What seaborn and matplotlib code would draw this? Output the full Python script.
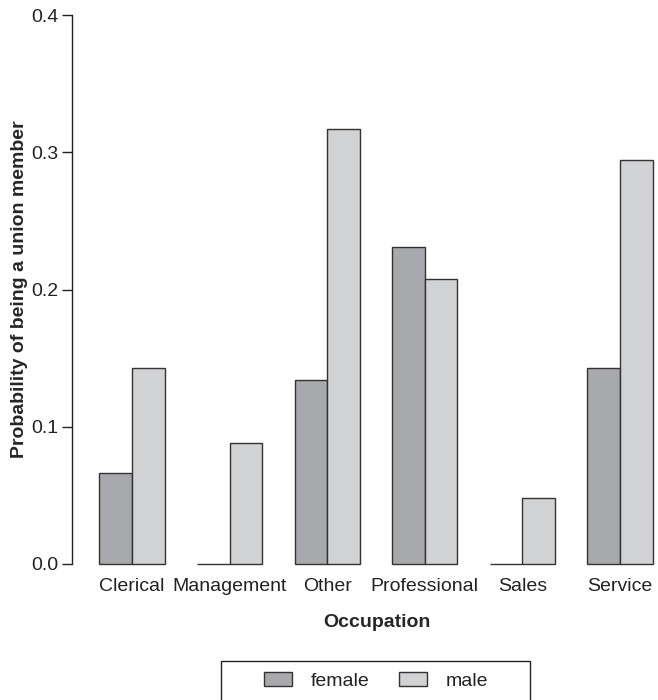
import pandas as pd
import numpy as np
import matplotlib
matplotlib.use('Agg')
import matplotlib.pyplot as plt
from matplotlib.patches import Rectangle
import seaborn as sns

# 数据
occupations = ['Clerical', 'Management', 'Other', 'Professional', 'Sales', 'Service']
female = [0.066, 0.0, 0.134, 0.231, 0.0, 0.143]
male = [0.143, 0.088, 0.317, 0.208, 0.048, 0.294]
sexes = ['female', 'male']
colors = {'female': '#a8a9ac', 'male': '#d1d2d4'}

df = pd.DataFrame({
    'occupation': occupations * 2,
    'sex': ['female'] * len(occupations) + ['male'] * len(occupations),
    'prob': female + male,
})

sns.set_style('ticks')
plt.rcParams['font.family'] = ['Liberation Sans', 'DejaVu Sans']
plt.rcParams['text.color'] = '#222222'

W, H = 658, 700
fig = plt.figure(figsize=(W / 100, H / 100), dpi=100)
ax = fig.add_axes([72 / W, 136 / H, (682 - 72) / W, 549 / H])

sns.barplot(data=df, x='occupation', y='prob', hue='sex', hue_order=sexes,
            order=occupations, palette=colors, width=2 / 3, gap=0,
            saturation=1, errorbar=None, edgecolor='#333333', linewidth=1.0,
            ax=ax)

ax.set_xlim(-0.615, 5.635)
ax.set_ylim(0, 0.4)
ax.set_yticks([0.0, 0.1, 0.2, 0.3, 0.4])
ax.set_yticklabels(['0.0', '0.1', '0.2', '0.3', '0.4'])
for p in ax.patches:
    p.set_clip_on(False)

ax.tick_params(axis='y', length=7, width=1, color='#222222', labelsize=14,
               pad=3, labelcolor='#222222')
ax.tick_params(axis='x', length=0, labelsize=14, pad=10, labelcolor='#222222')
sns.despine(ax=ax, bottom=True)
ax.spines['left'].set_color('#222222')
ax.spines['left'].set_linewidth(1)

ax.set_xlabel('Occupation', fontsize=14, fontweight='bold', labelpad=14)
ax.set_ylabel('Probability of being a union member', fontsize=14,
              fontweight='bold', labelpad=2)

# 图例放到下方
handles, labels = ax.get_legend_handles_labels()
ax.get_legend().remove()
leg = fig.legend(handles, labels, loc='center',
                 bbox_to_anchor=(376 / W, 1 - 681 / H), ncol=2,
                 frameon=False, fontsize=14,
                 handlelength=1.45, handleheight=0.75, columnspacing=1.55,
                 borderpad=0.0, handletextpad=0.93)

# 图例外框
fig.add_artist(Rectangle((221 / W, 1 - 706 / H), (530 - 221) / W, 45 / H,
                         transform=fig.transFigure, fill=False,
                         edgecolor='#222222', linewidth=1))

fig.savefig('out.png', dpi=100)
plt.close()
